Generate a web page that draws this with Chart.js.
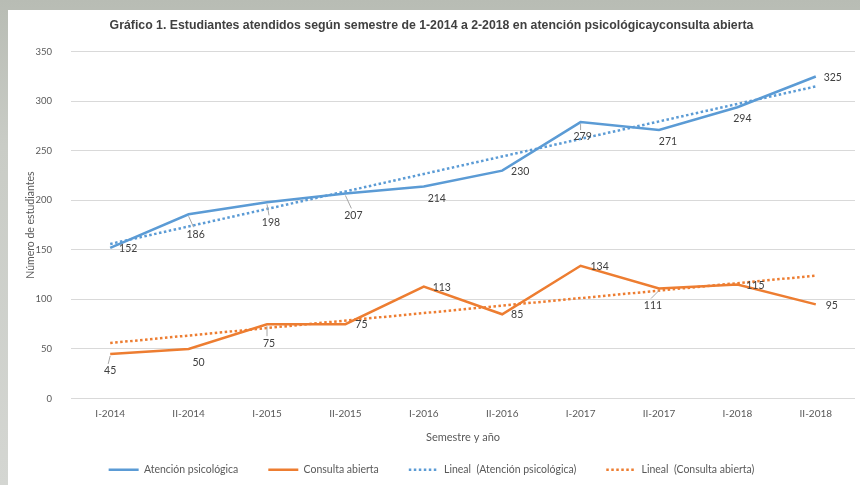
<!DOCTYPE html>
<html>
<head>
<meta charset="utf-8">
<script src="https://cdn.jsdelivr.net/npm/chart.js@4"></script>
<style>
  html, body { margin: 0; padding: 0; }
  body {
    width: 860px; height: 485px; overflow: hidden;
    background: linear-gradient(180deg, #b8bcb4 0%, #c9ccc6 30%, #d4d6d2 100%);
    position: relative;
  }
  #panel {
    position: absolute; left: 8px; top: 10px; width: 852px; height: 475px;
    background: #ffffff;
  }
</style>
</head>
<body>
<div id="panel"><canvas id="grafico"></canvas></div>
<script>
  // datos
  const semestres = ["I-2014", "II-2014", "I-2015", "II-2015", "I-2016", "II-2016", "I-2017", "II-2017", "I-2018", "II-2018"];
  const atencionPsicologica = [152, 186, 198, 207, 214, 230, 279, 271, 294, 325];
  const consultaAbierta = [45, 50, 75, 75, 113, 85, 134, 111, 115, 95];
  // líneas de tendencia: valor inicial y final
  const tendenciaAtencion = [156, null, null, null, null, null, null, null, null, 315];
  const tendenciaConsulta = [56, null, null, null, null, null, null, null, null, 124];
  const ticksY = [0, 50, 100, 150, 200, 250, 300, 350];

  const azul = '#5b9bd5';
  const naranja = '#ed7d31';
  const fuente = 'Lato, "Noto Sans", sans-serif';

  // desplazamiento de cada etiqueta respecto a su punto (px)
  const posEtiquetas = [
    [[18, 1], [7, 20], [4, 20], [8, 22], [13, 12], [18, 1], [2, 15], [9, 12], [5, 11], [17, 1]],
    [[0, 17], [10, 14], [2, 19], [16, 0], [18, 1], [15, 0], [19, 1], [-6, 17], [18, 1], [16, 1]]
  ];

  const etiquetasDatos = {
    id: 'etiquetasDatos',
    afterDatasetsDraw(chart) {
      const ctx = chart.ctx;
      ctx.save();
      ctx.font = '10.5px ' + fuente;
      ctx.fillStyle = '#404040';
      ctx.textAlign = 'center';
      ctx.textBaseline = 'middle';
      [0, 1].forEach(di => {
        const meta = chart.getDatasetMeta(di);
        const valores = chart.data.datasets[di].data;
        meta.data.forEach((pt, i) => {
          const [dx, dy] = posEtiquetas[di][i];
          const lx = pt.x + dx, ly = pt.y + dy;
          if (dy >= 15) {
            ctx.strokeStyle = '#a6a6a6';
            ctx.lineWidth = 1;
            ctx.beginPath();
            ctx.moveTo(pt.x, pt.y + 2);
            ctx.lineTo(lx - 2, ly - 7);
            ctx.stroke();
          }
          ctx.fillText(valores[i], lx, ly);
        });
      });
      ctx.restore();
    }
  };

  new Chart(document.getElementById('grafico'), {
    type: 'line',
    data: {
      labels: semestres,
      datasets: [
        { label: 'Atención psicológica', data: atencionPsicologica, borderColor: azul, backgroundColor: azul, borderWidth: 2.5, pointRadius: 0, tension: 0 },
        { label: 'Consulta abierta', data: consultaAbierta, borderColor: naranja, backgroundColor: naranja, borderWidth: 2.5, pointRadius: 0, tension: 0 },
        { label: 'Lineal  (Atención psicológica)', data: tendenciaAtencion, borderColor: azul, backgroundColor: azul, borderWidth: 2.5, borderDash: [2.5, 2.5], pointRadius: 0, spanGaps: true },
        { label: 'Lineal  (Consulta abierta)', data: tendenciaConsulta, borderColor: naranja, backgroundColor: naranja, borderWidth: 2.5, borderDash: [2.5, 2.5], pointRadius: 0, spanGaps: true }
      ]
    },
    options: {
      responsive: true,
      maintainAspectRatio: false,
      animation: false,
      layout: { padding: { left: 0, right: 5, top: 0, bottom: 0 } },
      plugins: {
        title: {
          display: true,
          text: 'Gráfico 1. Estudiantes atendidos según semestre de 1-2014 a 2-2018 en atención psicológicayconsulta abierta',
          font: { family: '"Liberation Sans Narrow", "Liberation Sans", sans-serif', size: 12.3, weight: 'bold' },
          color: '#404040',
          padding: { top: 8, bottom: 19 }
        },
        legend: {
          position: 'bottom',
          labels: {
            usePointStyle: true,
            pointStyle: 'line',
            pointStyleWidth: 30,
            padding: 30,
            color: '#595959',
            font: { family: fuente, size: 10.5 },
            generateLabels: chart => {
              const items = Chart.defaults.plugins.legend.labels.generateLabels(chart);
              items.forEach(it => {
                const ds = chart.data.datasets[it.datasetIndex];
                it.lineDash = ds.borderDash || [];
                it.lineWidth = 2.5;
                it.strokeStyle = ds.borderColor;
              });
              return items;
            }
          }
        },
        tooltip: { enabled: false }
      },
      scales: {
        x: {
          offset: true,
          grid: { display: false, drawTicks: false },
          border: { display: false },
          ticks: { color: '#595959', font: { family: fuente, size: 10 }, padding: 9, maxRotation: 0 },
          title: { display: true, text: 'Semestre y año', color: '#595959', font: { family: fuente, size: 11 }, padding: { top: 0, bottom: -10 } },
          afterFit: s => { s.height = 36; }
        },
        y: {
          min: 0,
          max: 350,
          afterBuildTicks: s => { s.ticks = ticksY.map(v => ({ value: v })); },
          grid: { color: '#d9d9d9', lineWidth: 1, drawTicks: false },
          border: { display: false },
          ticks: { color: '#595959', font: { family: fuente, size: 9.5 }, padding: 19 },
          title: { display: true, text: 'Número de estudiantes', color: '#595959', font: { family: fuente, size: 10.5 }, padding: 16 },
          afterFit: s => { s.width = 63; }
        }
      }
    },
    plugins: [etiquetasDatos]
  });
</script>
</body>
</html>
